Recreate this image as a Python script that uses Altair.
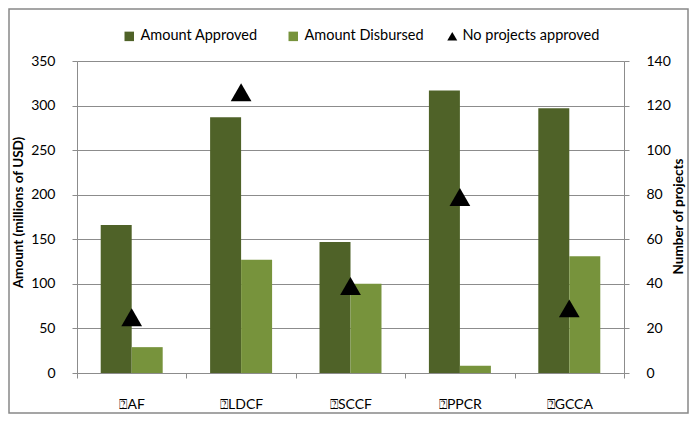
import altair as alt
import pandas as pd

categories = ["\u2370AF", "\u2370LDCF", "\u2370SCCF", "\u2370PPCR", "\u2370GCCA"]
amount_approved = [166, 287, 147, 317, 297]
amount_disbursed = [29, 127, 100, 8, 131]
num_projects = [25, 126, 39, 79, 29]
bar_series = ["Amount Approved", "Amount Disbursed"]
point_series = ["No projects approved"]
bar_colors = ["#4F6228", "#77933C"]
left_ticks = [0, 50, 100, 150, 200, 250, 300, 350]
right_ticks = [0, 20, 40, 60, 80, 100, 120, 140]

rows = []
for c, a, d in zip(categories, amount_approved, amount_disbursed):
    rows.append({"cat": c, "series": bar_series[0], "value": a})
    rows.append({"cat": c, "series": bar_series[1], "value": d})
bars_df = pd.DataFrame(rows)
proj_df = pd.DataFrame({"cat": categories, "projects": num_projects, "label": point_series[0]})

FONT = "Lato"
GRAY = "#8c8c8c"
LBL = 14
LEG = 14.5

x_enc = alt.X(
    "cat:N",
    sort=categories,
    scale=alt.Scale(paddingInner=0, paddingOuter=0),
    axis=alt.Axis(
        title=None, tickBand="extent", labelAngle=0, labelPadding=19,
        tickSize=5, domainColor=GRAY, tickColor=GRAY, labelFontSize=LBL,
        labelColor="#000000", labelFont=FONT, grid=False,
    ),
)

bars = alt.Chart(bars_df).mark_bar(opacity=1).encode(
    x=x_enc,
    xOffset=alt.XOffset("series:N", sort=bar_series,
                        scale=alt.Scale(paddingInner=0, paddingOuter=0.765)),
    y=alt.Y(
        "value:Q",
        scale=alt.Scale(domain=[0, 350], nice=False),
        axis=alt.Axis(
            values=left_ticks, title="Amount (millions of USD)", orient="left",
            grid=True, gridColor=GRAY, gridWidth=1, domainColor=GRAY,
            tickColor=GRAY, tickSize=5, labelPadding=17, labelFont=FONT,
            labelFontSize=LBL, labelColor="#000000", titleFont=FONT,
            titleFontSize=13.5, titleFontWeight="bold", titleColor="#000000",
            titleX=-59, titleY=151, titleAngle=-90, titleAlign="center",
            titleBaseline="middle",
        ),
    ),
    color=alt.Color(
        "series:N",
        scale=alt.Scale(domain=bar_series, range=bar_colors),
        legend=alt.Legend(
            title=None, orient="none", direction="horizontal",
            legendX=45, legendY=-32, symbolType="square", symbolSize=90,
            symbolStrokeWidth=0, labelFont=FONT, labelFontSize=LEG,
            labelColor="#000000", labelOffset=4, columnPadding=28,
        ),
    ),
)

points = alt.Chart(proj_df).mark_point(filled=True, size=430, opacity=1, color="#000000").encode(
    x=alt.X("cat:N", sort=categories),
    y=alt.Y(
        "projects:Q",
        scale=alt.Scale(domain=[0, 140], nice=False),
        axis=alt.Axis(
            values=right_ticks, title="Number of projects", orient="right",
            grid=False, domainColor=GRAY, tickColor=GRAY, tickSize=5,
            labelPadding=17, labelFont=FONT, labelFontSize=LBL,
            labelColor="#000000", titleFont=FONT, titleFontSize=13.5,
            titleFontWeight="bold", titleColor="#000000", titleX=54,
            titleY=155, titleAngle=-90, titleAlign="center", titleBaseline="middle",
        ),
    ),
    shape=alt.Shape(
        "label:N",
        scale=alt.Scale(domain=point_series, range=["triangle-up"]),
        legend=alt.Legend(
            title=None, orient="none", direction="horizontal",
            legendX=368, legendY=-32, symbolSize=100, symbolFillColor="#000000",
            symbolStrokeWidth=0, labelFont=FONT, labelFontSize=LEG,
            labelColor="#000000", labelOffset=3,
        ),
    ),
)

border = alt.Chart(pd.DataFrame({"b": [0]})).mark_rect(
    fill=None, stroke="#888888", strokeWidth=1.5
).encode(x=alt.value(-68), x2=alt.value(611), y=alt.value(-52), y2=alt.value(352))

chart = alt.layer(border, bars, points).resolve_scale(y="independent").properties(
    width=547, height=312,
    autosize=alt.AutoSizeParams(type="none"),
    padding={"left": 69, "top": 53, "right": 65, "bottom": 41},
).configure_view(stroke=None).configure(background="white")

chart.save("out.html", embed_options={"renderer": "svg", "actions": False})
